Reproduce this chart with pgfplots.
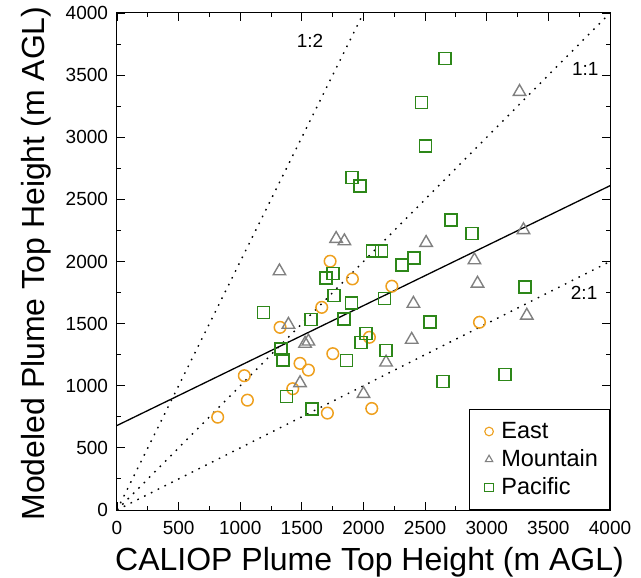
\documentclass[border=0pt]{standalone}
\usepackage{fontspec}
\setmainfont{Liberation Sans}
\usepackage{pgfplots}
\pgfplotsset{compat=1.18}
\definecolor{eastc}{RGB}{238,160,30}
\definecolor{mountc}{RGB}{128,128,128}
\definecolor{pacc}{RGB}{45,135,25}
\begin{document}
\begin{tikzpicture}
\begin{axis}[
  width=493pt, height=497pt, scale only axis,
  xmin=0, xmax=4000, ymin=0, ymax=4000,
  xtick distance=500, ytick distance=500,
  minor x tick num=1, minor y tick num=1,
  tick align=inside,
  major tick length=8pt, minor tick length=4.5pt,
  every tick/.style={black, line width=0.9pt},
  axis line style={line width=1pt},
  /pgf/number format/1000 sep={},
  /pgf/number format/assume math mode=true,
  tick label style={font=\fontsize{19}{19}\selectfont},
  xticklabel style={yshift=-8pt},
  yticklabel style={xshift=-5.5pt},
  label style={font=\fontsize{32}{32}\selectfont},
  xlabel={CALIOP Plume Top Height (m AGL)},
  ylabel={Modeled Plume Top Height (m AGL)},
  xlabel style={at={([shift={(6pt,-60pt)}]axis description cs:0.5,0)}, anchor=base},
  ylabel style={at={([shift={(-72pt,-2pt)}]axis description cs:0,0.5)}, anchor=base, rotate=0},
  legend cell align=left,
  legend style={at={(1,0)}, anchor=south east, draw=black, line width=1pt,
    font=\fontsize{23.5}{26}\selectfont, inner xsep=10pt, inner ysep=8pt,
    row sep=0pt, column sep=5pt,
    nodes={inner sep=1.5pt, text height=19pt, text depth=6pt}},
  legend image code/.code={%
    \path (-9pt,0pt) (5pt,0pt);
    \draw[#1, mark size=4.3pt, line width=1.1pt] plot coordinates {(0pt,0pt)};},
]
% reference lines 1:2, 1:1, 2:1
\addplot[black, line width=1.4pt, dash pattern=on 1.6pt off 6pt, forget plot] coordinates {(0,0) (2000,4000)};
\addplot[black, line width=1.4pt, dash pattern=on 1.6pt off 6pt, forget plot] coordinates {(0,0) (4000,4000)};
\addplot[black, line width=1.4pt, dash pattern=on 1.6pt off 6pt, forget plot] coordinates {(0,0) (4000,2000)};
% regression line
\addplot[black, line width=1.3pt, forget plot] coordinates {(0,680) (4000,2610)};

\addplot[only marks, mark=o, mark size=5.8pt, eastc, line width=1.5pt] coordinates {
(1729,2002) (1910,1860) (2230,1801) (1661,1631) (1323,1470) (2048,1390)
(1751,1258) (1485,1180) (1553,1126) (1033,1081) (1426,976) (1058,884)
(817,747) (1707,780) (2067,817) (2941,1511)
};
\addlegendentry{East}

\addplot[only marks, mark=triangle, mark size=7.2pt, mountc, line width=1.4pt] coordinates {
(1778,2183) (1845,2164) (1318,1922) (1391,1492) (1526,1339) (1553,1357)
(1485,1022) (2000,935) (2183,1188) (3266,3366) (2508,2151) (3298,2253)
(2900,2011) (2925,1823) (2405,1661) (3325,1565) (2391,1371)
};
\addlegendentry{Mountain}

\addplot[only marks, mark=square, mark size=6pt, pacc, line width=1.5pt] coordinates {
(2075,2083) (2148,2083) (2311,1970) (1696,1869) (1751,1903) (1761,1726)
(1902,1667) (1188,1591) (1575,1532) (1843,1538) (2170,1704) (2021,1422)
(1978,1349) (2183,1282) (1331,1296) (1345,1207) (1864,1204) (1377,914)
(1583,812) (2662,3634) (2470,3280) (2505,2930) (1905,2675) (1972,2607)
(2708,2333) (2879,2226) (2411,2030) (3312,1796) (2541,1514) (2643,1035)
(3149,1089)
};
\addlegendentry{Pacific}

\node[font=\fontsize{19}{19}\selectfont] at (axis cs:1566,3774) {1:2};
\node[font=\fontsize{19}{19}\selectfont] at (axis cs:3800,3548) {1:1};
\node[font=\fontsize{19}{19}\selectfont] at (axis cs:3790,1750) {2:1};

\coordinate (bl) at (rel axis cs:0,0);
\coordinate (tr) at (rel axis cs:1,1);
\end{axis}
\pgfresetboundingbox
\path[use as bounding box] ([shift={(-117pt,-67pt)}]bl) rectangle ([shift={(31pt,13pt)}]tr);
\end{tikzpicture}
\end{document}
